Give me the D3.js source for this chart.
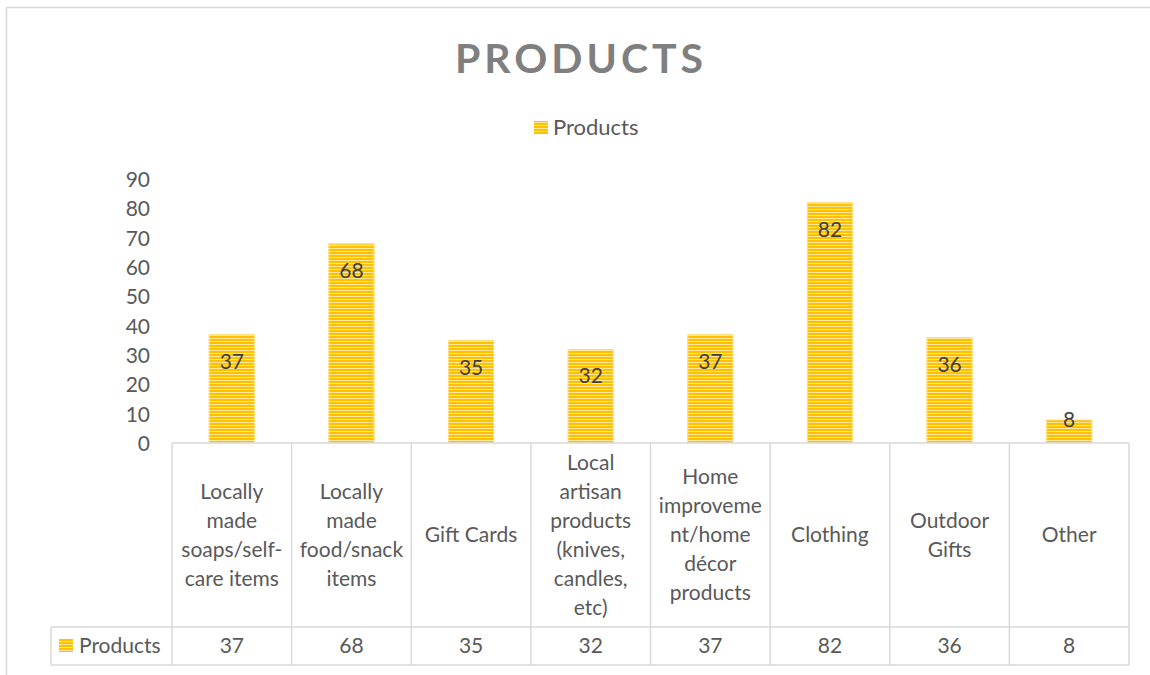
<!DOCTYPE html>
<html>
<head>
<meta charset="utf-8">
<script src="https://cdn.jsdelivr.net/npm/d3@7/dist/d3.min.js"></script>
<style>
  html, body { margin: 0; padding: 0; background: #fff; }
  svg { display: block; font-family: Lato, "Open Sans", sans-serif; }
</style>
</head>
<body>
<div id="chart"></div>
<script>
// data
var categories = [
    "Locally\nmade\nsoaps/self-\ncare items",
    "Locally\nmade\nfood/snack\nitems",
    "Gift Cards",
    "Local\nartisan\nproducts\n(knives,\ncandles,\netc)",
    "Home\nimproveme\nnt/home\ndécor\nproducts",
    "Clothing",
    "Outdoor\nGifts",
    "Other"
];
var values = [37, 68, 35, 32, 37, 82, 36, 8];
var yTicks = [0, 10, 20, 30, 40, 50, 60, 70, 80, 90];
var seriesName = "Products";

var W = 1150, H = 675;
var gridColor = "#d9d9d9", textColor = "#595959";
var fs = "21px";

var svg = d3.select("#chart").append("svg")
    .attr("width", W).attr("height", H);

// bar stripe pattern
var defs = svg.append("defs");
var pat = defs.append("pattern")
    .attr("id", "stripes")
    .attr("patternUnits", "userSpaceOnUse")
    .attr("width", 10).attr("height", 3);
pat.append("rect").attr("width", 10).attr("height", 3).attr("fill", "#ffe699");
pat.append("rect").attr("width", 10).attr("height", 2).attr("fill", "#ffc000");

// chart frame
svg.append("path")
    .attr("d", "M6.5," + H + "V7.5H" + W)
    .attr("fill", "none")
    .attr("stroke", gridColor)
    .attr("stroke-width", 1.5);

// title
svg.append("text")
    .attr("x", 581).attr("y", 73)
    .attr("text-anchor", "middle")
    .style("font-size", "41px")
    .style("font-weight", "bold")
    .style("letter-spacing", "4px")
    .attr("fill", "#7f7f7f")
    .text("PRODUCTS");

// legend
svg.append("rect")
    .attr("x", 534).attr("y", 121).attr("width", 14).attr("height", 13)
    .attr("fill", "url(#stripes)");
svg.append("text")
    .attr("x", 553).attr("y", 135)
    .style("font-size", "22px")
    .attr("fill", textColor)
    .text(seriesName);

// layout
var plotLeft = 172, plotRight = 1129, plotTop = 179, plotBottom = 443;
var rowTop = 627, tableBottom = 665, legendLeft = 51;

var x = d3.scaleBand().domain(d3.range(categories.length))
    .range([plotLeft, plotRight]).paddingInner(0).paddingOuter(0);
var y = d3.scaleLinear().domain([0, 90]).range([plotBottom, plotTop]);

// y axis (labels only)
var yAxis = d3.axisLeft(y).tickValues(yTicks).tickSize(0).tickPadding(0);
var yg = svg.append("g")
    .attr("transform", "translate(150,0)")
    .call(yAxis);
yg.select(".domain").remove();
yg.selectAll("text")
    .attr("fill", textColor)
    .attr("dy", "0.35em")
    .style("font-size", fs)
    .style("font-family", "Lato, 'Open Sans', sans-serif");

// bars
var barW = 46;
var bars = svg.append("g").attr("class", "bars");
bars.selectAll("rect")
    .data(values)
    .enter()
    .append("rect")
    .attr("x", (d, i) => x(i) + x.bandwidth() / 2 - barW / 2)
    .attr("y", d => y(d))
    .attr("width", barW)
    .attr("height", d => plotBottom - y(d))
    .attr("fill", "url(#stripes)");

// soft edges on the bars
bars.selectAll("rect.edge")
    .data(values)
    .enter()
    .append("rect")
    .attr("class", "edge")
    .attr("x", (d, i) => x(i) + x.bandwidth() / 2 - barW / 2 + 0.5)
    .attr("y", d => y(d) + 0.5)
    .attr("width", barW - 1)
    .attr("height", d => plotBottom - y(d) - 1)
    .attr("fill", "none")
    .attr("stroke", "#ffe6a0")
    .attr("stroke-opacity", 0.7)
    .attr("stroke-width", 1);

// value labels
bars.selectAll("text")
    .data(values)
    .enter()
    .append("text")
    .attr("x", (d, i) => x(i) + x.bandwidth() / 2)
    .attr("y", function(d) {
        var h = plotBottom - y(d);
        return h > 40 ? y(d) + 27 : y(d);
    })
    .attr("dy", "0.35em")
    .attr("text-anchor", "middle")
    .style("font-size", fs)
    .attr("fill", "#404040")
    .text(d => d);

// data table
var table = svg.append("g").attr("class", "data-table");
var lineStyle = function(sel) {
    sel.attr("stroke", gridColor).attr("stroke-width", 1.5).attr("fill", "none");
};
// horizontal lines
table.append("line").attr("x1", plotLeft).attr("x2", plotRight)
    .attr("y1", plotBottom).attr("y2", plotBottom).call(lineStyle);
table.append("line").attr("x1", legendLeft).attr("x2", plotRight)
    .attr("y1", rowTop).attr("y2", rowTop).call(lineStyle);
table.append("line").attr("x1", legendLeft).attr("x2", plotRight)
    .attr("y1", tableBottom).attr("y2", tableBottom).call(lineStyle);
// vertical lines
var vx = categories.map((c, i) => x(i)).concat([plotRight]);
table.selectAll("line.v")
    .data(vx)
    .enter()
    .append("line")
    .attr("class", "v")
    .attr("x1", d => d).attr("x2", d => d)
    .attr("y1", plotBottom).attr("y2", tableBottom)
    .call(lineStyle);
table.append("line").attr("x1", legendLeft).attr("x2", legendLeft)
    .attr("y1", rowTop).attr("y2", tableBottom).call(lineStyle);

// category labels
var lineH = 29, catMid = (plotBottom + rowTop) / 2;
categories.forEach(function(c, i) {
    var lines = c.split("\n");
    var t = table.append("text")
        .attr("text-anchor", "middle")
        .style("font-size", fs)
        .attr("fill", textColor);
    lines.forEach(function(l, j) {
        t.append("tspan")
            .attr("x", x(i) + x.bandwidth() / 2)
            .attr("y", catMid + (j - (lines.length - 1) / 2) * lineH)
            .attr("dy", "0.35em")
            .text(l);
    });
});

// value row
var rowMid = (rowTop + tableBottom) / 2;
table.selectAll("text.val")
    .data(values)
    .enter()
    .append("text")
    .attr("class", "val")
    .attr("x", (d, i) => x(i) + x.bandwidth() / 2)
    .attr("y", rowMid)
    .attr("dy", "0.35em")
    .attr("text-anchor", "middle")
    .style("font-size", fs)
    .attr("fill", textColor)
    .text(d => d);

// legend key in table
table.append("rect")
    .attr("x", 59).attr("y", rowMid - 7).attr("width", 14).attr("height", 13)
    .attr("fill", "url(#stripes)");
table.append("text")
    .attr("x", 79).attr("y", rowMid)
    .attr("dy", "0.35em")
    .style("font-size", fs)
    .attr("fill", textColor)
    .text(seriesName);
</script>
</body>
</html>
